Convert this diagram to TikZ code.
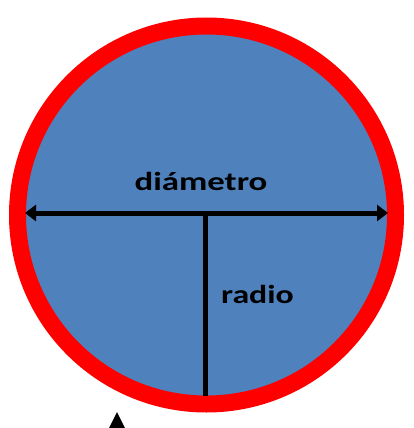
\documentclass[tikz,border=0pt]{standalone}
\usepackage{fontspec}
\setmainfont{Carlito}
\usetikzlibrary{arrows.meta}
\definecolor{discblue}{HTML}{4F81BD}
\tikzset{
  rim/.style={circle, draw=red, fill=discblue, line width=17pt, outer sep=0pt, minimum size=378pt},
  measure/.style={line width=5pt, draw=black},
  lbl/.style={anchor=base, inner sep=0pt, font=\fontsize{26}{30}\selectfont\bfseries}
}
\begin{document}
\begin{tikzpicture}[x=1pt, y=-1pt]
    \useasboundingbox (0,0) rectangle (414,428);
    \clip (0,0) rectangle (414,428);
    \node[rim] (disc) at (206.5,215) {};

    % diameter and radius
    \coordinate (left) at (25,213);
    \coordinate (right) at (388,213);
    \coordinate (mid) at (205,213);
    \coordinate (bottom) at (205,396);
    \draw[measure, {Triangle[length=11pt, width=16pt]}-{Triangle[length=11pt, width=16pt]}] (left) -- (right);
    \draw[measure] (mid) -- (bottom);

    \node[lbl] (diam) at (201,190) {\scalebox{1.34}[1]{diámetro}};
    \node[lbl] (rad) at (257.5,303) {\scalebox{1.3}[1]{radio}};

    % pointer at the bottom edge
    \coordinate (tip) at (117,412);
    \fill[black] (tip) -- ++(-19,38) -- ++(38,0) -- cycle;
\end{tikzpicture}
\end{document}
